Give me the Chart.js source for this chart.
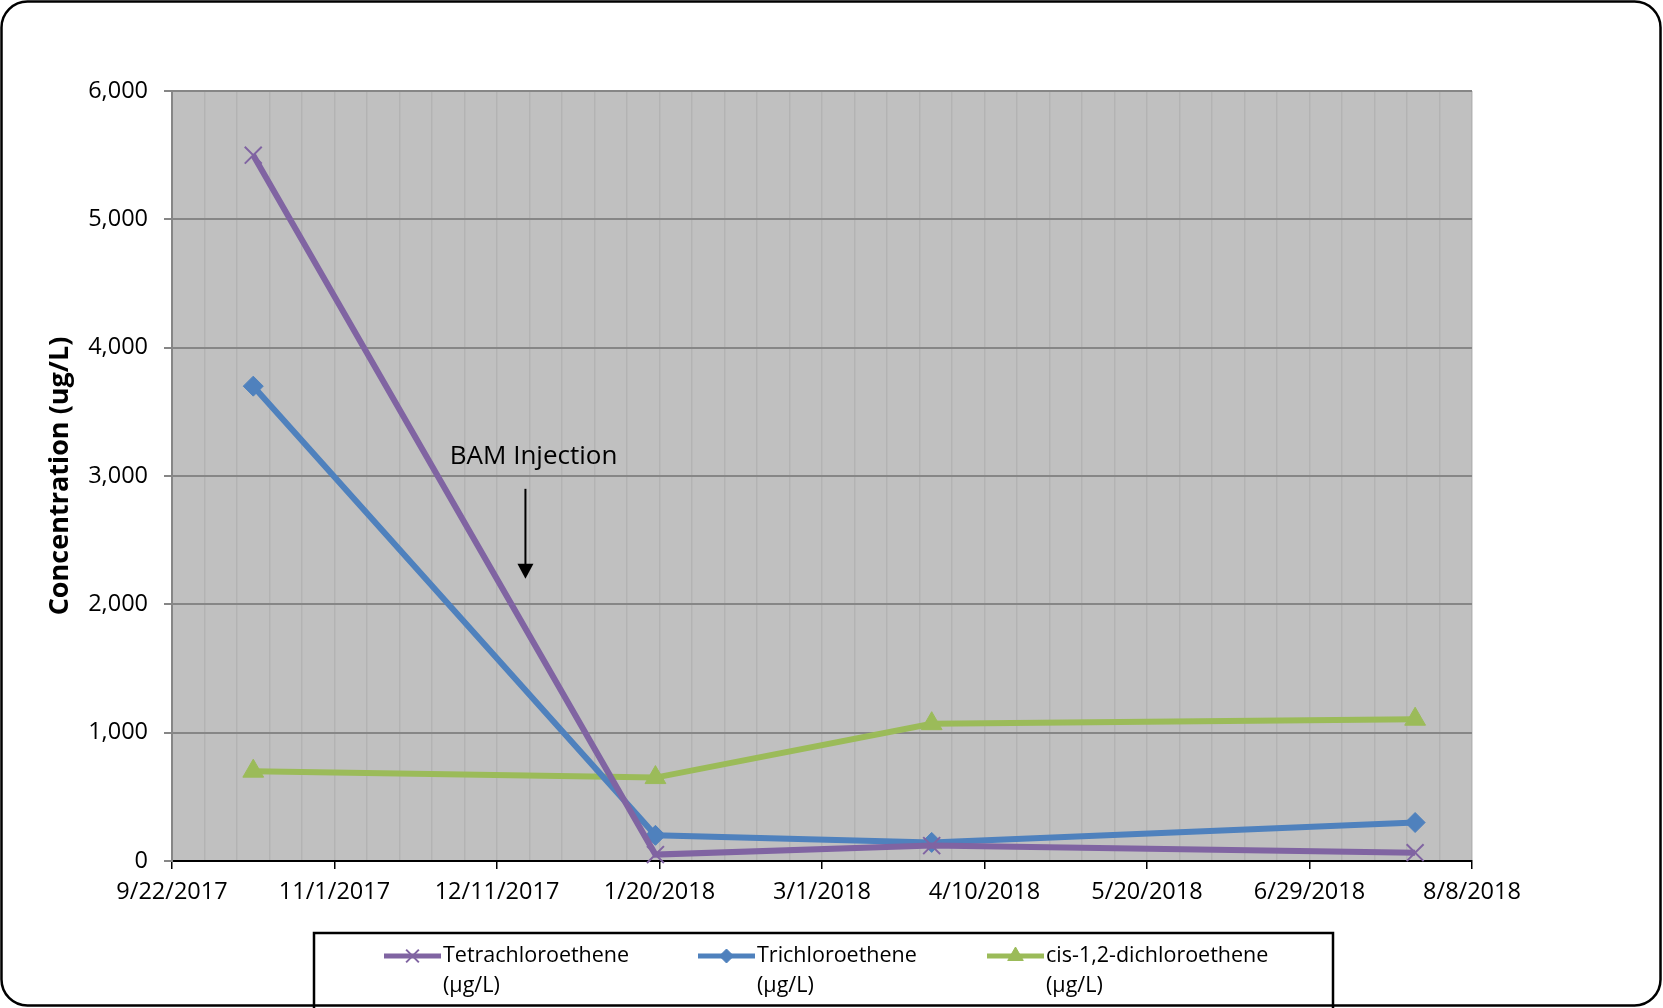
<!DOCTYPE html>
<html>
<head>
<meta charset="utf-8">
<script src="https://cdn.jsdelivr.net/npm/chart.js@4.4.0/dist/chart.umd.min.js"></script>
<style>
html, body { margin: 0; padding: 0; background: #fff; }
#wrap { width: 1663px; height: 1008px; position: relative; }
</style>
</head>
<body>
<div id="wrap"><canvas id="chart" width="1663" height="1008"></canvas></div>
<script>
// Chart data
const startDate = '9/22/2017';
const sampleDates = ['10/12/2017', '1/19/2018', '3/28/2018', '7/25/2018'];
const seriesNames = ['Tetrachloroethene', 'Trichloroethene', 'cis-1,2-dichloroethene'];
const tetrachloroethene = [5500, 50, 120, 65];
const trichloroethene = [3700, 200, 145, 300];
const dichloroethene = [700, 650, 1070, 1105];
const yMin = 0, yMax = 6000, yStep = 1000;
const xSpanDays = 320, majorStepDays = 40, minorStepDays = 8;
const injectionDate = '12/18/2017';
const injectionLabelDate = '12/20/2017';
const injectionLabel = 'BAM Injection';
const injectionFrom = 2900, injectionTo = 2200, injectionLabelY = 3150;

const FONT = "'Open Sans', 'Noto Sans', sans-serif";
const colors = { tetra: '#8064A2', tri: '#4F81BD', cis: '#9BBB59' };

// date helpers
function parseMDY(s) {
    const [m, d, y] = s.split('/').map(Number);
    return Date.UTC(y, m - 1, d);
}
function daysFromStart(s) {
    return Math.round((parseMDY(s) - parseMDY(startDate)) / 86400000);
}
function dayLabel(n) {
    const d = new Date(parseMDY(startDate) + n * 86400000);
    return (d.getUTCMonth() + 1) + '/' + d.getUTCDate() + '/' + d.getUTCFullYear();
}
const isMajor = v => Math.round(v) % majorStepDays === 0;

const xs = sampleDates.map(daysFromStart);
const toPoints = vals => vals.map((v, i) => ({ x: xs[i], y: v }));

// plot background + outer rounded frame
const framePlugin = {
    id: 'frame',
    beforeDraw(chart) {
        const { ctx, chartArea: a } = chart;
        ctx.save();
        ctx.fillStyle = '#fff';
        ctx.fillRect(0, 0, chart.width, chart.height);
        ctx.fillStyle = '#c0c0c0';
        ctx.fillRect(a.left, a.top, a.right - a.left, a.bottom - a.top);
        ctx.restore();
    },
    afterDraw(chart) {
        const ctx = chart.ctx;
        const x0 = 1.5, y0 = 1.5, x1 = chart.width - 2.5, y1 = chart.height - 2.5, r = 26;
        ctx.save();
        ctx.strokeStyle = '#000';
        ctx.lineWidth = 2.5;
        ctx.beginPath();
        ctx.moveTo(x0 + r, y0);
        ctx.arcTo(x1, y0, x1, y1, r);
        ctx.arcTo(x1, y1, x0, y1, r);
        ctx.arcTo(x0, y1, x0, y0, r);
        ctx.arcTo(x0, y0, x1, y0, r);
        ctx.closePath();
        ctx.stroke();
        ctx.restore();
    }
};

// "BAM Injection" label with arrow, placed in data coordinates
const annotationPlugin = {
    id: 'injection',
    afterDatasetsDraw(chart) {
        const { ctx, scales: { x, y } } = chart;
        const ax = x.getPixelForValue(daysFromStart(injectionDate));
        const yTop = y.getPixelForValue(injectionFrom);
        const yTip = y.getPixelForValue(injectionTo);
        ctx.save();
        ctx.fillStyle = '#000';
        ctx.strokeStyle = '#000';
        ctx.font = '26px ' + FONT;
        ctx.textAlign = 'center';
        ctx.textBaseline = 'middle';
        ctx.fillText(injectionLabel, x.getPixelForValue(daysFromStart(injectionLabelDate)), y.getPixelForValue(injectionLabelY));
        ctx.lineWidth = 2;
        ctx.beginPath();
        ctx.moveTo(ax, yTop);
        ctx.lineTo(ax, yTip - 13);
        ctx.stroke();
        ctx.beginPath();
        ctx.moveTo(ax - 8, yTip - 15);
        ctx.lineTo(ax + 8, yTip - 15);
        ctx.lineTo(ax, yTip);
        ctx.closePath();
        ctx.fill();
        ctx.restore();
    }
};

// boxed legend under the axis, two-line labels
const legendPlugin = {
    id: 'boxLegend',
    afterDraw(chart) {
        const ctx = chart.ctx;
        const box = { left: 314, top: 933, right: 1333, bottom: 1012 };
        const starts = [384, 698, 987];
        const sampleLen = 57;
        ctx.save();
        ctx.strokeStyle = '#000';
        ctx.lineWidth = 2.5;
        ctx.strokeRect(box.left, box.top, box.right - box.left, box.bottom - box.top);
        chart.data.datasets.forEach((ds, i) => {
            const sx = starts[i], sy = 956;
            ctx.strokeStyle = ds.borderColor;
            ctx.lineWidth = 5;
            ctx.beginPath();
            ctx.moveTo(sx, sy);
            ctx.lineTo(sx + sampleLen, sy);
            ctx.stroke();
            ctx.fillStyle = ds.pointBackgroundColor;
            ctx.strokeStyle = ds.pointBorderColor;
            ctx.lineWidth = ds.pointBorderWidth;
            Chart.helpers.drawPoint(ctx, {
                pointStyle: ds.pointStyle,
                radius: ds.pointRadius - 3,
                borderWidth: ds.pointBorderWidth
            }, sx + sampleLen / 2, sy);
            ctx.fillStyle = '#000';
            ctx.font = '21.5px ' + FONT;
            ctx.textAlign = 'left';
            ctx.textBaseline = 'middle';
            ctx.fillText(seriesNames[i], sx + sampleLen + 2, sy);
            ctx.fillText('(\u00b5g/L)', sx + sampleLen + 2, sy + 30);
        });
        ctx.restore();
    }
};

function lineSet(label, vals, color, style, radius, bw) {
    return {
        label: label,
        data: toPoints(vals),
        borderColor: color,
        backgroundColor: color,
        borderWidth: 6,
        tension: 0,
        pointStyle: style,
        pointRadius: radius,
        pointHoverRadius: radius,
        pointBackgroundColor: color,
        pointBorderColor: color,
        pointBorderWidth: bw,
        clip: false
    };
}

const ctx = document.getElementById('chart').getContext('2d');
new Chart(ctx, {
    type: 'line',
    data: {
        datasets: [
            lineSet(seriesNames[0], tetrachloroethene, colors.tetra, 'crossRot', 12, 2),
            lineSet(seriesNames[1], trichloroethene, colors.tri, 'rectRot', 10, 1),
            lineSet(seriesNames[2], dichloroethene, colors.cis, 'triangle', 12, 1)
        ]
    },
    options: {
        responsive: false,
        animation: false,
        events: [],
        layout: { autoPadding: false, padding: { left: 0, top: 91, right: 191, bottom: 0 } },
        plugins: { legend: { display: false }, tooltip: { enabled: false } },
        scales: {
            x: {
                type: 'linear',
                min: 0,
                max: xSpanDays,
                afterFit(scale) { scale.height = 147; },
                ticks: {
                    stepSize: minorStepDays,
                    autoSkip: false,
                    maxRotation: 0,
                    padding: 9,
                    color: '#000',
                    font: { family: FONT, size: 23.5 },
                    callback: v => isMajor(v) ? dayLabel(v) : ''
                },
                grid: {
                    color: '#b3b3b3',
                    lineWidth: 1.5,
                    drawTicks: true,
                    tickLength: 8,
                    tickWidth: 1.5,
                    tickColor: c => (c.tick && isMajor(c.tick.value)) ? '#000' : 'rgba(0,0,0,0)'
                },
                border: { color: '#000', width: 2 }
            },
            y: {
                min: yMin,
                max: yMax,
                afterFit(scale) { scale.width = 172; },
                ticks: {
                    stepSize: yStep,
                    padding: 16,
                    color: '#000',
                    font: { family: FONT, size: 23.5 },
                    callback: v => v.toLocaleString('en-US')
                },
                grid: {
                    color: '#868686',
                    lineWidth: 2,
                    tickLength: 8,
                    tickColor: '#868686'
                },
                border: { color: '#868686', width: 2 },
                title: {
                    display: true,
                    text: 'Concentration (ug/L)',
                    color: '#000',
                    font: { family: FONT, size: 27, weight: 'bold' },
                    padding: { top: 44, bottom: 0 }
                }
            }
        }
    },
    plugins: [framePlugin, annotationPlugin, legendPlugin]
});
</script>
</body>
</html>
